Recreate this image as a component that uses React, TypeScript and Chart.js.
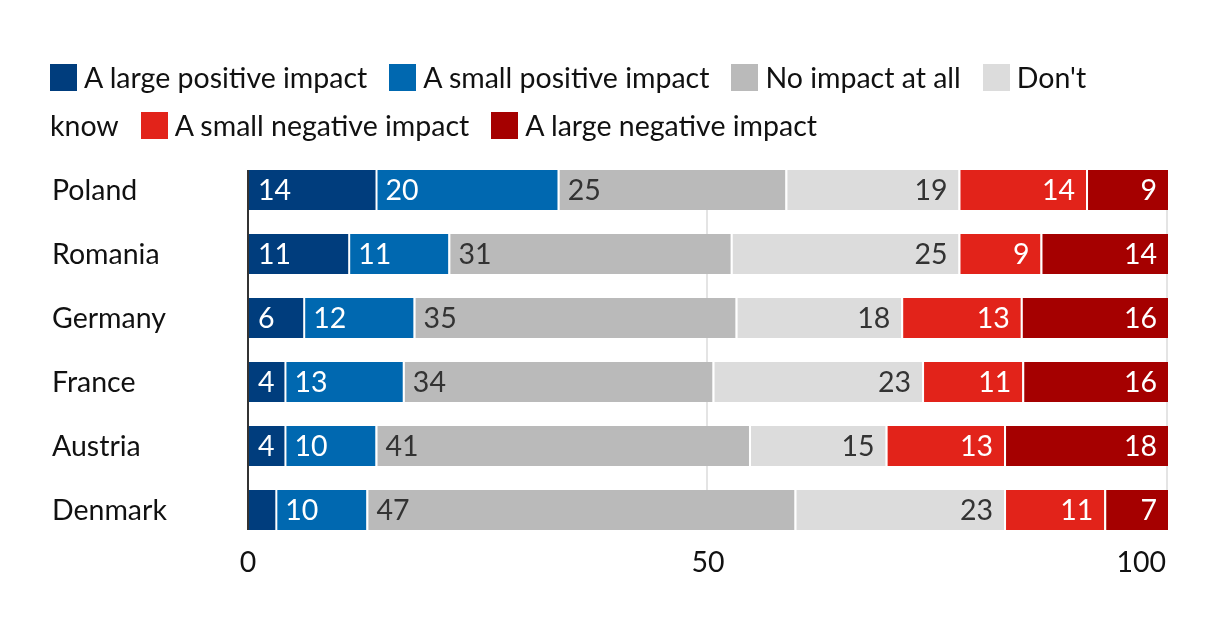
import React, { useEffect, useRef } from 'react';
import { Chart, registerables } from 'chart.js';

Chart.register(...registerables);

const countries = ['Poland', 'Romania', 'Germany', 'France', 'Austria', 'Denmark'];
const seriesNames = [
  'A large positive impact',
  'A small positive impact',
  'No impact at all',
  "Don't know",
  'A small negative impact',
  'A large negative impact',
];
const largePositive = [14, 11, 6, 4, 4, 3];
const smallPositive = [20, 11, 12, 13, 10, 10];
const noImpact = [25, 31, 35, 34, 41, 47];
const dontKnow = [19, 25, 18, 23, 15, 23];
const smallNegative = [14, 9, 13, 11, 13, 11];
const largeNegative = [9, 14, 16, 16, 18, 7];
const xTicks = [0, 50, 100];

const seriesValues = [largePositive, smallPositive, noImpact, dontKnow, smallNegative, largeNegative];
const colors = ['#003d7d', '#0068b0', '#bababa', '#dcdcdc', '#e2231a', '#a50000'];
const textColors = ['#ffffff', '#ffffff', '#333333', '#333333', '#ffffff', '#ffffff'];
const labelAligns = ['left', 'left', 'left', 'right', 'right', 'right'];

const FONT = 'Lato, "Open Sans", sans-serif';
const FONT_SIZE = 28.5;

const rowTotals = countries.map((_, i) => seriesValues.reduce((s, arr) => s + arr[i], 0));

const decorPlugin = {
  id: 'decor',
  beforeDatasetsDraw(chart: any) {
    const ctx = chart.ctx;
    const x = chart.scales.x;
    const first = chart.getDatasetMeta(0).data[0];
    const last = chart.getDatasetMeta(0).data[countries.length - 1];
    const top = first.y - first.height / 2;
    const bottom = last.y + last.height / 2;
    ctx.save();
    ctx.strokeStyle = '#e4e4e4';
    ctx.lineWidth = 2;
    xTicks.forEach((t) => {
      if (t === 0) return;
      const px = Math.round(x.getPixelForValue(t)) - 1;
      ctx.beginPath();
      ctx.moveTo(px, top);
      ctx.lineTo(px, bottom);
      ctx.stroke();
    });
    ctx.restore();
  },
  afterDatasetsDraw(chart: any) {
    const ctx = chart.ctx;
    const x = chart.scales.x;
    const metas = seriesValues.map((_, d) => chart.getDatasetMeta(d));
    const first = metas[0].data[0];
    const last = metas[0].data[countries.length - 1];
    const top = first.y - first.height / 2;
    const bottom = last.y + last.height / 2;
    ctx.save();
    // value labels
    ctx.font = `${FONT_SIZE}px ${FONT}`;
    ctx.textBaseline = 'middle';
    metas.forEach((meta: any, d: number) => {
      meta.data.forEach((bar: any, i: number) => {
        const v = seriesValues[d][i];
        if (v < 4) return;
        const left = Math.min(bar.x, bar.base);
        const right = Math.max(bar.x, bar.base);
        ctx.fillStyle = textColors[d];
        if (labelAligns[d] === 'left') {
          ctx.textAlign = 'left';
          ctx.fillText(String(v), left + 10, bar.y + 1);
        } else {
          ctx.textAlign = 'right';
          ctx.fillText(String(v), right - 11, bar.y + 1);
        }
      });
    });
    // axis line at 0
    const x0 = x.getPixelForValue(0);
    ctx.strokeStyle = '#333333';
    ctx.lineWidth = 2;
    ctx.beginPath();
    ctx.moveTo(x0, top);
    ctx.lineTo(x0, bottom);
    ctx.stroke();
    // country labels
    ctx.fillStyle = '#111111';
    ctx.textAlign = 'left';
    metas[0].data.forEach((bar: any, i: number) => {
      ctx.fillText(countries[i], 52, bar.y + 1);
    });
    // x tick labels
    xTicks.forEach((t, k) => {
      const px = x.getPixelForValue(t);
      if (k === xTicks.length - 1) {
        ctx.textAlign = 'right';
        ctx.fillText(String(t), px - 2, bottom + 33);
      } else {
        ctx.textAlign = 'center';
        ctx.fillText(String(t), px, bottom + 33);
      }
    });
    ctx.restore();
  },
};

export default function App() {
  const canvasRef = useRef<HTMLCanvasElement | null>(null);

  useEffect(() => {
    const canvas = canvasRef.current;
    if (!canvas) return;
    const datasets = seriesValues.map((vals, d) => ({
      label: seriesNames[d],
      data: vals.map((v, i) => (v * 100) / rowTotals[i]),
      backgroundColor: colors[d],
      borderColor: '#ffffff',
      borderWidth: d === 0 ? 0 : { left: 2, right: 0, top: 0, bottom: 0 },
      borderSkipped: false as const,
      barPercentage: 1,
      categoryPercentage: 0.625,
    }));
    const chart = new Chart(canvas, {
      type: 'bar',
      data: { labels: countries, datasets },
      options: {
        indexAxis: 'y',
        responsive: false,
        animation: false,
        devicePixelRatio: 1,
        layout: { padding: { left: 248, right: 52, top: 158, bottom: 88 } },
        plugins: { legend: { display: false }, tooltip: { enabled: false } },
        scales: {
          x: { stacked: true, min: 0, max: 100, display: false },
          y: { stacked: true, display: false },
        },
      },
      plugins: [decorPlugin],
    });
    return () => chart.destroy();
  }, []);

  return (
    <div style={{ position: 'fixed', left: 0, top: 0, width: 1220, height: 630, background: '#fff' }}>
      <canvas ref={canvasRef} width={1220} height={630} style={{ position: 'absolute', left: 0, top: 0 }} />
      <div
        style={{
          position: 'absolute',
          left: 50,
          top: 53,
          width: 1095,
          fontFamily: FONT,
          fontSize: FONT_SIZE,
          lineHeight: '48px',
          color: '#111',
        }}
      >
        {seriesNames.map((name, d) => (
          <span key={name} style={{ marginRight: 22 }}>
            <span
              style={{
                display: 'inline-block',
                width: 27,
                height: 27,
                background: colors[d],
                marginRight: 7,
                verticalAlign: '-3px',
              }}
            />
            {name}
          </span>
        ))}
      </div>
    </div>
  );
}
